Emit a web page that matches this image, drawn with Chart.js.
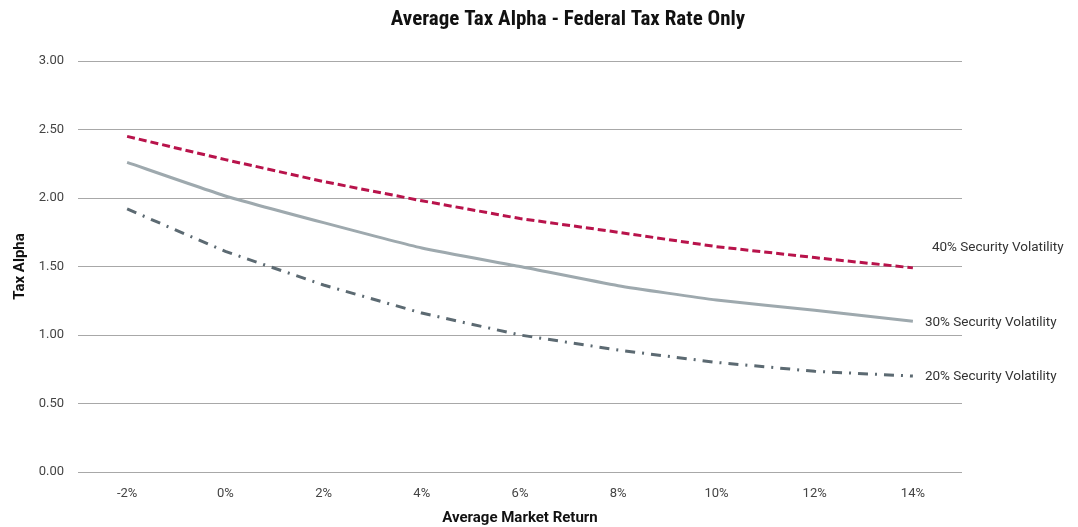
<!DOCTYPE html>
<html>
<head>
<meta charset="utf-8">
<script src="https://cdn.jsdelivr.net/npm/chart.js@4/dist/chart.umd.min.js"></script>
<style>
  html, body { margin: 0; padding: 0; background: #fff; }
  #wrap { width: 1078px; height: 527px; position: relative; }
</style>
</head>
<body>
<div id="wrap"><canvas id="c"></canvas></div>
<script>
const categories = ['-2%', '0%', '2%', '4%', '6%', '8%', '10%', '12%', '14%'];
const vol40 = [2.45, 2.28, 2.12, 1.98, 1.85, 1.75, 1.645, 1.565, 1.49];
const vol30 = [2.26, 2.015, 1.82, 1.635, 1.50, 1.36, 1.255, 1.18, 1.10];
const vol20 = [1.92, 1.61, 1.365, 1.16, 1.00, 0.89, 0.80, 0.735, 0.70];
const seriesNames = ['40% Security Volatility', '30% Security Volatility', '20% Security Volatility'];
const chartTitle = 'Average Tax Alpha - Federal Tax Rate Only';
const xTitle = 'Average Market Return';
const yTitle = 'Tax Alpha';

const labelOffsets = [{dx: 19, dy: -20}, {dx: 12, dy: 1}, {dx: 12, dy: 1}];

const endLabels = {
  id: 'endLabels',
  afterDatasetsDraw(chart) {
    const ctx = chart.ctx;
    ctx.save();
    ctx.font = '13.5px Roboto, "Liberation Sans", sans-serif';
    ctx.fillStyle = '#333';
    ctx.textAlign = 'left';
    ctx.textBaseline = 'middle';
    chart.data.datasets.forEach((ds, i) => {
      const meta = chart.getDatasetMeta(i);
      const pt = meta.data[meta.data.length - 1];
      ctx.fillText(ds.label, pt.x + labelOffsets[i].dx, pt.y + labelOffsets[i].dy);
    });
    ctx.restore();
  }
};

const topTitle = {
  id: 'topTitle',
  afterDraw(chart) {
    const ctx = chart.ctx;
    ctx.save();
    ctx.font = 'bold 21px "Liberation Sans Narrow", "Roboto Condensed", Roboto, sans-serif';
    ctx.fillStyle = '#111';
    ctx.textAlign = 'center';
    ctx.textBaseline = 'middle';
    const cx = chart.chartArea.left + (chart.width - chart.chartArea.left) / 2 - 10;
    ctx.fillText(chartTitle, cx, chart.chartArea.top - 41);
    ctx.restore();
  }
};

new Chart(document.getElementById('c'), {
  type: 'line',
  data: {
    labels: categories,
    datasets: [
      { label: seriesNames[0], data: vol40, borderColor: '#b8134b', borderWidth: 3, borderDash: [8, 4], pointRadius: 0, tension: 0, fill: false },
      { label: seriesNames[1], data: vol30, borderColor: '#9ea9ae', borderWidth: 3, pointRadius: 0, tension: 0.15, fill: false },
      { label: seriesNames[2], data: vol20, borderColor: '#5c6a72', borderWidth: 3, borderDash: [10, 7, 2, 7], pointRadius: 0, tension: 0, fill: false }
    ]
  },
  options: {
    responsive: true,
    maintainAspectRatio: false,
    animation: false,
    layout: { padding: { left: 0, right: 116, top: 61, bottom: 0 } },
    plugins: {
      legend: { display: false },
      tooltip: { enabled: false },
      title: { display: false }
    },
    scales: {
      x: {
        offset: true,
        grid: { display: false, drawTicks: false },
        border: { display: false },
        ticks: { color: '#444', font: { family: 'Roboto, sans-serif', size: 13 }, padding: 14, maxRotation: 0 },
        title: {
          display: true, text: xTitle, color: '#111',
          font: { family: '"Liberation Sans Narrow", Roboto, sans-serif', size: 15, weight: 'bold', lineHeight: 1.2 },
          padding: { top: 4, bottom: 0 }
        },
        afterFit(scale) { scale.height = 55; }
      },
      y: {
        min: 0, max: 3,
        ticks: { stepSize: 0.5, color: '#444', font: { family: 'Roboto, sans-serif', size: 13 }, padding: 14,
          callback: v => Number(v).toFixed(2) },
        grid: { color: '#a8a8a8', lineWidth: 1, drawTicks: false },
        border: { display: false },
        title: {
          display: true, text: yTitle, color: '#111',
          font: { family: '"Liberation Sans Narrow", Roboto, sans-serif', size: 15, weight: 'bold', lineHeight: 1.2 },
          padding: { top: 11, bottom: 4 }
        },
        afterFit(scale) { scale.width = 78; }
      }
    }
  },
  plugins: [endLabels, topTitle]
});
</script>
</body>
</html>
